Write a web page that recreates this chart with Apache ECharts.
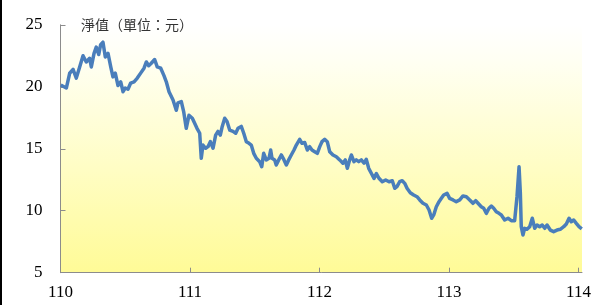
<!DOCTYPE html>
<html>
<head>
<meta charset="utf-8">
<script src="https://cdn.jsdelivr.net/npm/echarts@6/dist/echarts.min.js"></script>
<style>
  html, body { margin: 0; padding: 0; background: #fff; }
  #chart { width: 600px; height: 305px; }
</style>
</head>
<body>
<div id="chart"></div>
<script>
// time in ROC years (110 = start of 110)
const years = [
  110.002, 110.045, 110.071, 110.097, 110.122, 110.148, 110.174, 110.199, 110.225, 110.238,
  110.259, 110.276, 110.295, 110.310, 110.328, 110.346, 110.367, 110.388, 110.405, 110.423,
  110.444, 110.465, 110.483, 110.500, 110.521, 110.542, 110.568, 110.593, 110.619, 110.645,
  110.663, 110.681, 110.701, 110.727, 110.747, 110.774, 110.799, 110.817, 110.838, 110.869,
  110.894, 110.907, 110.933, 110.951, 110.971, 110.992, 111.018, 111.036, 111.054, 111.075,
  111.087, 111.100, 111.121, 111.139, 111.157, 111.178, 111.198, 111.216, 111.234, 111.249,
  111.268, 111.286, 111.307, 111.332, 111.353, 111.371, 111.396, 111.415, 111.435, 111.456,
  111.473, 111.492, 111.512, 111.538, 111.554, 111.569, 111.589, 111.610, 111.623, 111.633,
  111.654, 111.666, 111.685, 111.705, 111.726, 111.744, 111.762, 111.782, 111.803, 111.821,
  111.847, 111.865, 111.886, 111.906, 111.924, 111.942, 111.963, 111.983, 112.002, 112.019,
  112.040, 112.060, 112.079, 112.104, 112.130, 112.156, 112.181, 112.199, 112.215, 112.233,
  112.246, 112.266, 112.284, 112.303, 112.323, 112.344, 112.361, 112.380, 112.400, 112.421,
  112.439, 112.459, 112.485, 112.511, 112.537, 112.562, 112.581, 112.598, 112.619, 112.639,
  112.658, 112.676, 112.701, 112.727, 112.753, 112.774, 112.799, 112.825, 112.846, 112.866,
  112.882, 112.902, 112.923, 112.941, 112.959, 112.985, 113.005, 113.031, 113.056, 113.083,
  113.108, 113.134, 113.160, 113.185, 113.206, 113.224, 113.249, 113.268, 113.288, 113.309,
  113.327, 113.345, 113.365, 113.386, 113.404, 113.430, 113.456, 113.481, 113.507, 113.525,
  113.541, 113.551, 113.558, 113.571, 113.584, 113.602, 113.623, 113.643, 113.662, 113.680,
  113.700, 113.720, 113.739, 113.757, 113.782, 113.808, 113.834, 113.859, 113.886, 113.906,
  113.927, 113.944, 113.963, 113.983, 114.004, 114.025
];

// net asset value (NT$)
const nav = [
  20.14, 19.90, 21.09, 21.40, 20.70, 21.60, 22.50, 22.00, 22.30, 21.60,
  22.70, 23.20, 22.60, 23.40, 23.60, 22.40, 22.70, 21.60, 20.80, 21.10,
  20.10, 20.40, 19.60, 19.90, 19.80, 20.30, 20.40, 20.70, 21.10, 21.50,
  22.00, 21.70, 21.90, 22.20, 21.60, 21.50, 20.90, 20.40, 19.60, 18.93,
  18.10, 18.70, 18.80, 18.00, 16.65, 17.70, 17.46, 17.05, 16.65, 16.25,
  14.23, 15.30, 15.04, 15.17, 15.57, 15.04, 16.10, 16.40, 16.10, 16.80,
  17.46, 17.20, 16.50, 16.40, 16.25, 16.65, 16.80, 16.25, 15.57, 15.44,
  15.30, 14.63, 14.23, 13.96, 13.55, 14.63, 14.10, 14.23, 14.90, 14.23,
  14.10, 13.69, 14.10, 14.50, 14.10, 13.69, 14.10, 14.50, 14.90, 15.30,
  15.76, 15.44, 15.50, 14.90, 15.17, 14.90, 14.76, 14.63, 15.17, 15.57,
  15.76, 15.57, 14.76, 14.50, 14.36, 14.10, 13.83, 14.10, 13.42, 14.10,
  14.50, 13.96, 14.10, 13.96, 14.10, 13.83, 14.15, 13.42, 13.02, 12.60,
  13.00, 12.62, 12.34, 12.48, 12.34, 12.42, 11.81, 11.94, 12.34, 12.42,
  12.21, 11.81, 11.45, 11.27, 11.13, 10.87, 10.60, 10.46, 10.06, 9.39,
  9.66, 10.32, 10.73, 11.00, 11.27, 11.40, 11.00, 10.87, 10.73, 10.87,
  11.19, 11.13, 10.87, 10.60, 10.81, 10.60, 10.32, 10.20, 9.79, 10.20,
  10.38, 10.20, 9.92, 9.79, 9.66, 9.25, 9.39, 9.20, 9.20, 11.13,
  13.55, 11.40, 8.71, 8.04, 8.58, 8.50, 8.71, 9.39, 8.58, 8.85,
  8.71, 8.85, 8.58, 8.85, 8.44, 8.31, 8.44, 8.50, 8.71, 8.93,
  9.39, 9.11, 9.25, 8.98, 8.71, 8.53
];

const xTicks = [110, 111, 112, 113, 114];
const unitLabel = '淨值（單位：元）';

const chart = echarts.init(document.getElementById('chart'));
const axisColor = '#8c8c8c';
const serif = '"Liberation Serif", "DejaVu Serif", serif';

chart.setOption({
  animation: false,
  backgroundColor: '#ffffff',
  grid: {
    left: 60.5, right: 18, top: 24.8, bottom: 32.3,
    show: true,
    borderWidth: 0,
    backgroundColor: new echarts.graphic.LinearGradient(0, 0, 0, 1, [
      { offset: 0, color: '#ffffff' },
      { offset: 0.15, color: '#fffff2' },
      { offset: 1, color: '#fffb97' }
    ])
  },
  graphic: [
    { type: 'rect', left: 0, top: 0, shape: { width: 2, height: 305 }, style: { fill: '#000' } },
    {
      type: 'text', left: 81, top: 18,
      style: { text: unitLabel, font: '14px "Noto Sans CJK TC"', fill: '#333' }
    }
  ],
  xAxis: {
    type: 'value',
    min: 110,
    max: 114.027,
    splitLine: { show: false },
    axisLine: { lineStyle: { color: axisColor, width: 1 } },
    axisTick: { inside: true, length: 5, customValues: xTicks, lineStyle: { color: axisColor } },
    axisLabel: {
      customValues: xTicks,
      color: '#000', fontFamily: serif, fontSize: 17, margin: 11
    }
  },
  yAxis: {
    type: 'value',
    min: 5, max: 25, interval: 5,
    splitLine: { show: false },
    axisLine: { show: true, lineStyle: { color: axisColor, width: 1 } },
    axisTick: { show: true, inside: true, length: 5, lineStyle: { color: axisColor } },
    axisLabel: { color: '#000', fontFamily: serif, fontSize: 17, margin: 18 }
  },
  series: [{
    type: 'line',
    data: years.map((t, i) => [t, nav[i]]),
    showSymbol: false,
    lineStyle: { color: '#4a7ebb', width: 3.5, join: 'round' },
    clip: false
  }]
});
</script>
</body>
</html>
